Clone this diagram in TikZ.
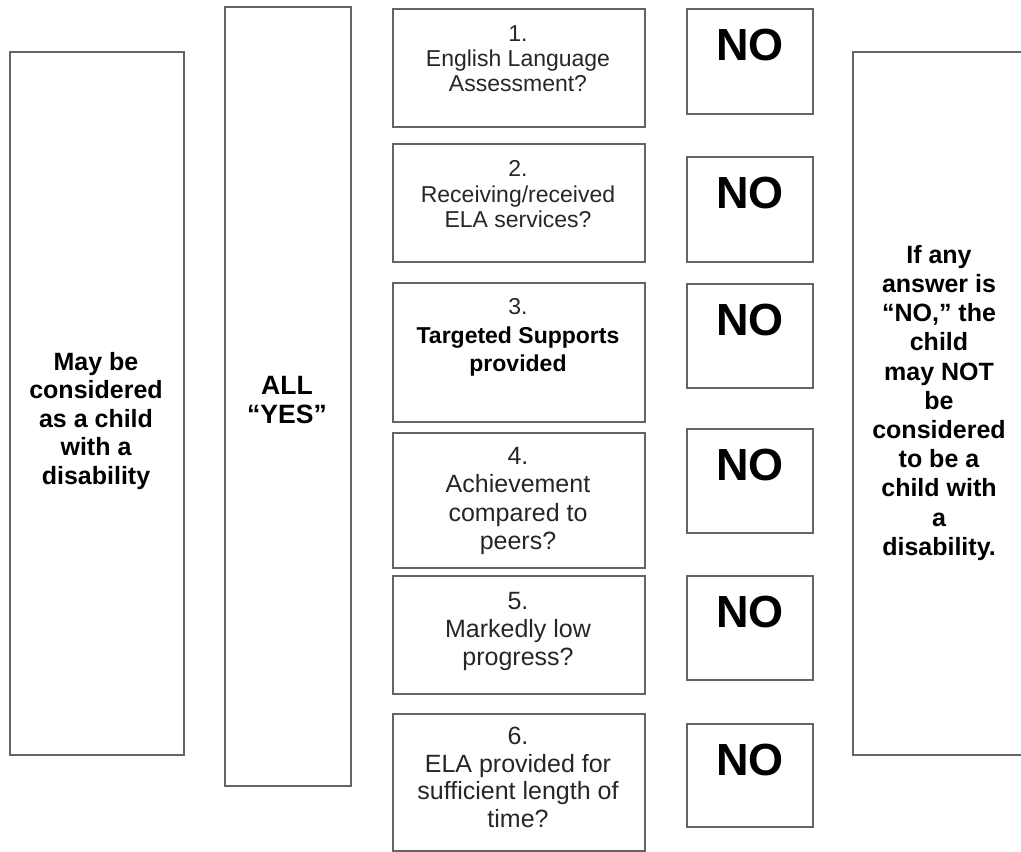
\documentclass[tikz,border=0pt]{standalone}
\usepackage{fontspec}
\setmainfont{Liberation Sans}
\definecolor{edge}{RGB}{100,100,100}
\definecolor{qtxt}{RGB}{38,38,38}
\begin{document}
\begin{tikzpicture}[x=1pt,y=-1pt,
  frame/.style={draw=edge,line width=1.6pt,rectangle,inner sep=0pt,anchor=north west},
  qtext/.style={anchor=north,inner sep=0pt,align=center,text=qtxt},
  btext/.style={anchor=north,inner sep=0pt,align=center,text=black,font=\bfseries\fontsize{25}{28.5}\selectfont},
  notext/.style={anchor=north,inner sep=0pt,text=black,font=\bfseries\fontsize{45}{50}\selectfont}]
\useasboundingbox (0,0) rectangle (1021,852);
\clip (0,0) rectangle (1021,852);

% outer boxes
\node[frame,minimum width=174,minimum height=703] (left) at (9,51) {};
\node[frame,minimum width=126,minimum height=779] (allyes) at (224,6) {};
\node[frame,minimum width=174,minimum height=703] (right) at (852,51) {};

% question boxes
\node[frame,minimum width=252,minimum height=118] (q1) at (392,8) {};
\node[frame,minimum width=252,minimum height=118] (q2) at (392,143) {};
\node[frame,minimum width=252,minimum height=139] (q3) at (392,282) {};
\node[frame,minimum width=252,minimum height=135] (q4) at (392,432) {};
\node[frame,minimum width=252,minimum height=118] (q5) at (392,575) {};
\node[frame,minimum width=252,minimum height=137] (q6) at (392,713) {};

% NO boxes
\node[frame,minimum width=126,minimum height=105] (n1) at (686,8) {};
\node[frame,minimum width=126,minimum height=105] (n2) at (686,156) {};
\node[frame,minimum width=126,minimum height=104] (n3) at (686,283) {};
\node[frame,minimum width=126,minimum height=104] (n4) at (686,428) {};
\node[frame,minimum width=126,minimum height=104] (n5) at (686,575) {};
\node[frame,minimum width=126,minimum height=103] (n6) at (686,723) {};

% texts
\node[btext] (leftt) at (96,352) {May be\\considered\\as a child\\with a\\disability};
\node[btext,font=\bfseries\fontsize{26.5}{29}\selectfont] (allyest) at (287,376) {ALL\\\char"201C YES\char"201D};
\node[btext,font=\bfseries\fontsize{25}{29.2}\selectfont] (rightt) at (939,245) {If any\\answer is\\\char"201C NO,\char"201D\ the\\child\\may NOT\\be\\considered\\to be a\\child with\\a\\disability.};

\node[qtext,font=\fontsize{23}{25}\selectfont] (q1t) at (518,25.4) {1.\\English Language\\Assessment?};
\node[qtext,font=\fontsize{23}{25.5}\selectfont] (q2t) at (518,160.4) {2.\\Receiving/received\\ELA services?};
\node[qtext,font=\fontsize{23}{28.5}\selectfont] (q3t) at (518,298.4) {3.\\{\color{black}\bfseries Targeted Supports}\\{\color{black}\bfseries provided}};
\node[qtext,font=\fontsize{25}{28.5}\selectfont] (q4t) at (518,447) {4.\\Achievement\\compared to\\peers?};
\node[qtext,font=\fontsize{25}{28}\selectfont] (q5t) at (518,592) {5.\\Markedly low\\progress?};
\node[qtext,font=\fontsize{25}{27.5}\selectfont] (q6t) at (518,727) {6.\\ELA provided for\\sufficient length of\\time?};

\foreach \n in {n1,n2,n3,n4,n5,n6}{
  \node[notext] (\n t) at ([yshift=-21pt]\n.north) {NO};
}
\end{tikzpicture}
\end{document}
